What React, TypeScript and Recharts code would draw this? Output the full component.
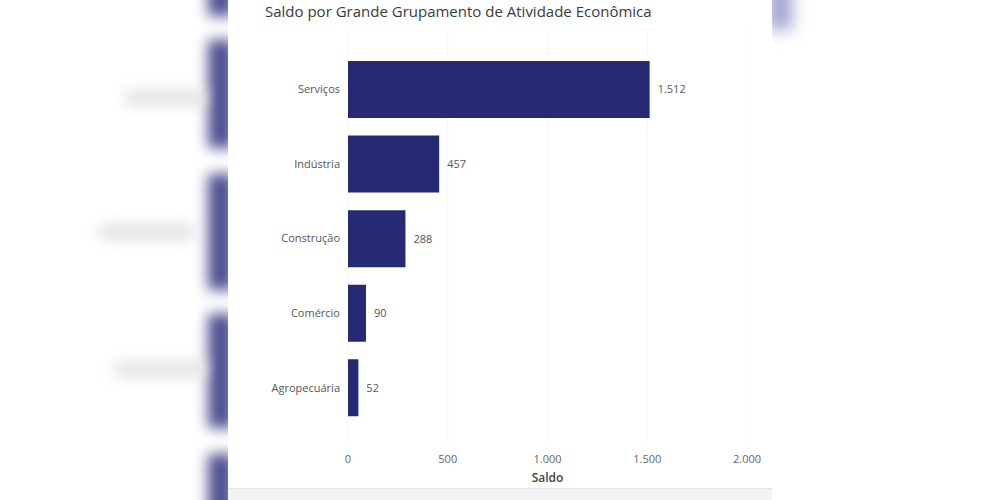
import { BarChart, Bar, XAxis, YAxis, CartesianGrid, LabelList } from 'recharts';

const categories = ['Serviços', 'Indústria', 'Construção', 'Comércio', 'Agropecuária'];
const saldo = [1512, 457, 288, 90, 52];
const xTicks = [0, 500, 1000, 1500, 2000];

const data = categories.map((name, i) => ({ name, saldo: saldo[i] }));

const font = "'Open Sans', 'Noto Sans', sans-serif";
const fmt = (v: number) => v.toLocaleString('pt-BR');

// blurred pieces of the page behind the visual
const sideStrips = [
  { top: -20, height: 36 },
  { top: 40, height: 108 },
  { top: 174, height: 116 },
  { top: 314, height: 114 },
  { top: 454, height: 70 },
];
const greyBlobs = [
  { left: 125, top: 90, width: 80 },
  { left: 100, top: 224, width: 95 },
  { left: 115, top: 361, width: 90 },
];

export default function App() {
  return (
    <div style={{ position: 'fixed', left: 0, top: 0, width: 1000, height: 500, background: '#fff', overflow: 'hidden' }}>
      {sideStrips.map((s, i) => (
        <div key={i} style={{ position: 'absolute', left: 208, top: s.top, width: 26, height: s.height, background: '#4d5092', filter: 'blur(7px)' }} />
      ))}
      {greyBlobs.map((b, i) => (
        <div key={i} style={{ position: 'absolute', left: b.left, top: b.top, width: b.width, height: 16, background: '#e4e4e4', filter: 'blur(7px)' }} />
      ))}
      <div style={{ position: 'absolute', left: 768, top: -14, width: 24, height: 44, background: '#a3a4d0', filter: 'blur(8px)' }} />
      <div style={{ position: 'absolute', left: 228, top: 0, width: 544, height: 500, background: '#fff' }} />
      <div style={{ position: 'absolute', left: 228, top: 488, width: 544, height: 12, background: '#f3f3f3', borderTop: '1px solid #e6e6e6' }} />
      <div style={{ position: 'absolute', left: 265, top: 1, fontFamily: font, fontSize: 15, color: '#3a3a3a', whiteSpace: 'nowrap' }}>
        Saldo por Grande Grupamento de Atividade Econômica
      </div>
      <div style={{ position: 'absolute', left: 228, top: 0 }}>
        <BarChart
          width={544}
          height={500}
          data={data}
          layout="vertical"
          margin={{ top: 30, right: 25, bottom: 0, left: 0 }}
          barCategoryGap="12%"
        >
          <CartesianGrid horizontal={false} stroke="#e4e4e4" strokeDasharray="1 3" />
          <XAxis
            type="number"
            dataKey="saldo"
            domain={[0, 2000]}
            ticks={xTicks}
            tickFormatter={fmt}
            axisLine={false}
            tickLine={false}
            tickSize={0}
            tickMargin={10}
            height={55}
            tick={{ fill: '#666666', fontSize: 11, fontFamily: font }}
            label={{ value: 'Saldo', position: 'insideBottom', offset: 18, fill: '#444', fontSize: 12, fontFamily: font, fontWeight: 600 }}
          />
          <YAxis
            type="category"
            dataKey="name"
            width={120}
            axisLine={false}
            tickLine={false}
            tickSize={0}
            tickMargin={8}
            padding={{ top: 22, bottom: 20 }}
            tick={{ fill: '#555', fontSize: 11, fontFamily: font }}
          />
          <Bar dataKey="saldo" fill="#252a72" isAnimationActive={false}>
            <LabelList dataKey="saldo" position="right" offset={8} formatter={(v: any) => fmt(Number(v))} style={{ fill: '#555', fontSize: 11, fontFamily: font }} />
          </Bar>
        </BarChart>
      </div>
    </div>
  );
}
